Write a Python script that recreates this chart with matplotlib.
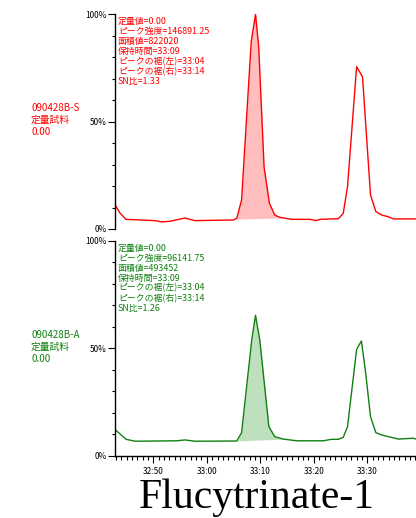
import numpy as np
import matplotlib
matplotlib.use("Agg")
from matplotlib import pyplot as plt
from matplotlib.ticker import MultipleLocator, FuncFormatter, FixedLocator

# ---- data (time in seconds, intensity in %) ----
t_s = [1962.97, 1963.8, 1964.9, 1970.3, 1971.6, 1973.1, 1975.9, 1977.8,
       1985.0, 1985.6, 1986.5, 1988.3, 1989.1, 1989.7, 1990.7, 1991.7,
       1992.7, 1993.7, 1995.9, 1999.3, 2000.4, 2001.2, 2004.6, 2005.5,
       2006.3, 2008.0, 2009.1, 2010.6, 2011.6, 2012.7, 2013.9, 2014.9, 2019.1]
y_s = [10.7, 7.3, 4.5, 3.9, 3.3, 3.6, 5.1, 3.9,
       4.2, 5.0, 13.5, 87.2, 100.0, 84.9, 29.0, 12.0,
       6.5, 5.4, 4.5, 4.5, 3.9, 4.5, 4.8, 7.3,
       19.7, 75.6, 70.9, 15.8, 8.1, 6.5, 5.7, 4.7, 4.7]

t_a = [1962.97, 1964.9, 1966.6, 1974.4, 1975.9, 1977.8, 1985.6, 1986.5,
       1988.4, 1989.1, 1989.9, 1991.6, 1992.7, 1994.3, 1996.8, 2001.8,
       2003.3, 2004.6, 2005.5, 2006.3, 2008.0, 2008.9, 2009.7, 2010.6,
       2011.6, 2012.7, 2015.8, 2018.6, 2019.1]
y_a = [11.9, 7.6, 6.7, 6.9, 7.3, 6.7, 6.8, 10.7,
       53.9, 65.4, 53.9, 13.5, 8.8, 7.7, 6.9, 6.9,
       7.6, 7.6, 8.5, 13.5, 49.5, 53.4, 38.3, 18.1,
       10.7, 9.6, 7.7, 8.1, 7.7]

peak_bounds = [1985.3, 1994.3]

info_s = ["定量値=0.00", "ピーク強度=146891.25", "面積値=822020", "保持時間=33:09",
          "ピークの裾(左)=33:04", "ピークの裾(右)=33:14", "SN比=1.33"]
info_a = ["定量値=0.00", "ピーク強度=96141.75", "面積値=493452", "保持時間=33:09",
          "ピークの裾(左)=33:04", "ピークの裾(右)=33:14", "SN比=1.26"]
name_s = ["090428B-S", "定量試料", "0.00"]
name_a = ["090428B-A", "定量試料", "0.00"]

xlim = (1962.84, 2019.1)
W, H = 416, 518

plt.rcParams['font.family'] = ['Noto Sans CJK JP', 'DejaVu Sans']
fig = plt.figure(figsize=(W / 100, H / 100), dpi=100)

def mmss(v, pos):
    v = int(round(v))
    return "%d:%02d" % (v // 60, v % 60)

def panel(bottom_px, top_px, t, y, line_c, fill_c, info, name, show_x):
    ax = fig.add_axes([115 / W, 1 - bottom_px / H, 1 - 115 / W, (bottom_px - top_px) / H])
    ax.set_xlim(xlim)
    ax.set_ylim(0, 100)
    ax.plot(t, y, color=line_c, lw=1.0)
    # ピーク部分の塗りつぶし
    tt = np.array([peak_bounds[0]] + [v for v in t if peak_bounds[0] < v < peak_bounds[1]] + [peak_bounds[1]])
    yy = np.interp(tt, t, y)
    base = np.interp(tt, peak_bounds, [yy[0], yy[-1]])
    ax.fill_between(tt, yy, base, color=fill_c, lw=0)
    for s in ['top', 'right']:
        ax.spines[s].set_visible(False)
    ax.spines['left'].set_linewidth(1.0)
    ax.yaxis.set_major_locator(FixedLocator([0, 50, 100]))
    ax.yaxis.set_minor_locator(MultipleLocator(10))
    ax.set_yticklabels(["0%", "50%", "100%"])
    ax.tick_params(axis='y', which='major', length=5, width=0.8, labelsize=6, pad=1)
    ax.tick_params(axis='y', which='minor', length=2.5, width=0.8)
    if show_x:
        ax.xaxis.set_major_locator(MultipleLocator(10))
        ax.xaxis.set_minor_locator(MultipleLocator(1))
        ax.xaxis.set_major_formatter(FuncFormatter(mmss))
        ax.tick_params(axis='x', which='major', length=5, width=0.8, labelsize=6, pad=3)
        ax.tick_params(axis='x', which='minor', length=3, width=0.8)
        ax.spines['bottom'].set_linewidth(1.0)
    else:
        ax.spines['bottom'].set_visible(False)
        ax.set_xticks([])
    ax.patch.set_alpha(0)
    fig.text(118 / W, 1 - (top_px + 3) / H, "\n".join(info), color=line_c,
             fontsize=6.4, va='top', ha='left', linespacing=1.12)
    fig.text(31 / W, 1 - (top_px + 89) / H, "\n".join(name), color=line_c,
             fontsize=7, va='top', ha='left', linespacing=1.22)
    return ax

panel(229, 14.3, t_s, y_s, '#ff0000', '#ffbdbd', info_s, name_s, False)
panel(455.6, 241, t_a, y_a, '#108010', '#bfe0bf', info_a, name_a, True)

fig.text(256.5 / W, 1 - 498 / H, "Flucytrinate-1", fontsize=30,
         family='Liberation Serif', ha='center', va='center')

plt.savefig("out.png", dpi=100)
